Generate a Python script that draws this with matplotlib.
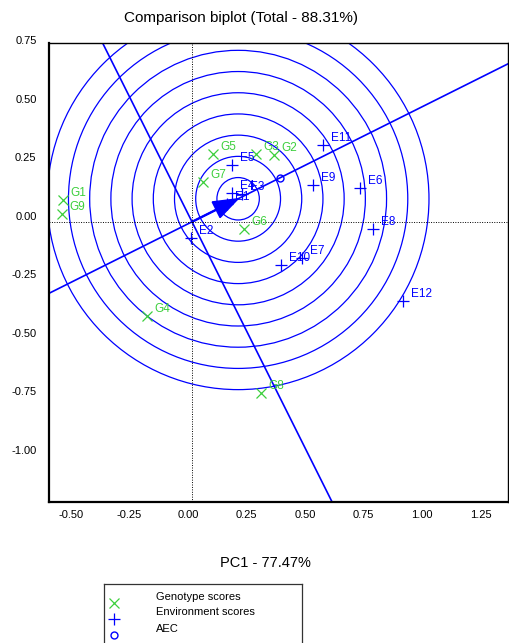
import matplotlib
matplotlib.use("Agg")
import matplotlib.pyplot as plt
import matplotlib.transforms as mtransforms
import numpy as np
from matplotlib.patches import Circle, FancyArrow

plt.rcParams['font.family'] = ['Liberation Sans', 'DejaVu Sans']

# genotype and environment scores (PC1, PC2)
genotypes = ['G1', 'G2', 'G3', 'G4', 'G5', 'G6', 'G7', 'G8', 'G9']
gen_pc1 = [-0.551, 0.350, 0.274, -0.192, 0.090, 0.222, 0.047, 0.295, -0.556]
gen_pc2 = [0.094, 0.286, 0.291, -0.402, 0.291, -0.030, 0.171, -0.731, 0.034]

environments = ['E1', 'E2', 'E3', 'E4', 'E5', 'E6', 'E7', 'E8', 'E9', 'E10', 'E11', 'E12']
env_pc1 = [0.150, -0.004, 0.214, 0.171, 0.171, 0.718, 0.470, 0.774, 0.517, 0.380, 0.560, 0.902]
env_pc2 = [0.077, -0.068, 0.119, 0.124, 0.244, 0.145, -0.154, -0.030, 0.158, -0.184, 0.329, -0.338]

aec = (0.376, 0.188)
ideal = (0.197, 0.0985)
ring_step = 0.0906
n_rings = 9

total_pct = 88.31
pc1_pct = 77.47

xlim = (-0.611, 1.350)
ylim = (-1.197, 0.764)
xticks = [-0.50, -0.25, 0.00, 0.25, 0.50, 0.75, 1.00, 1.25]
yticks = [-1.00, -0.75, -0.50, -0.25, 0.00, 0.25, 0.50, 0.75]

green = '#3ccf3c'
blue = '#0000ff'

fig = plt.figure(figsize=(5.09, 6.43), dpi=100)
ax = fig.add_axes([49/509, 1-502/643, 459/509, 459/643])

# concentric rings around the ideal genotype
for k in range(1, n_rings+1):
    ax.add_patch(Circle(ideal, ring_step*k, fill=False, ec=blue, lw=0.9))

# AEC abscissa through the origin and its perpendicular
slope = aec[1]/aec[0]
xs = np.array(xlim)
ax.plot(xs, slope*xs, color=blue, lw=1.2)
ys = np.array(ylim)
ax.plot(-slope*ys, ys, color=blue, lw=1.2)

# arrow from origin to ideal genotype
ax.add_patch(FancyArrow(0, 0, ideal[0], ideal[1], width=0.004, head_width=0.075,
                        head_length=0.105, length_includes_head=True, color=blue))

ax.axhline(0, color='black', lw=0.7, ls=(0, (1, 1.5)))
ax.axvline(0, color='black', lw=0.7, ls=(0, (1, 1.5)))

ax.plot(gen_pc1, gen_pc2, 'x', color=green, ms=7, mew=0.9)
for name, x, y in zip(genotypes, gen_pc1, gen_pc2):
    ax.annotate(name, (x, y), xytext=(5.5, 5), textcoords='offset points',
                color=green, fontsize=8.5, ha='left', va='center')

ax.plot(env_pc1, env_pc2, '+', color=blue, ms=8, mew=0.9)
for name, x, y in zip(environments, env_pc1, env_pc2):
    ax.annotate(name, (x, y), xytext=(5.5, 5), textcoords='offset points',
                color=blue, fontsize=8.5, ha='left', va='center')

ax.plot([aec[0]], [aec[1]], 'o', mfc='none', mec=blue, ms=5, mew=1.0)

ax.set_xlim(xlim)
ax.set_ylim(ylim)
ax.set_xticks(xticks)
ax.set_yticks(yticks)
ax.set_xticklabels(['%.2f' % v for v in xticks])
ax.set_yticklabels(['%.2f' % v for v in yticks])
ax.tick_params(length=0, labelsize=8)
ax.tick_params(axis='y', pad=9)
ax.tick_params(axis='x', pad=6)
# tick labels sit slightly off their grid positions
for lab in ax.get_yticklabels():
    lab.set_transform(lab.get_transform() + mtransforms.ScaledTranslation(0, 0.06, fig.dpi_scale_trans))
for lab in ax.get_xticklabels():
    lab.set_transform(lab.get_transform() + mtransforms.ScaledTranslation(-0.04, 0, fig.dpi_scale_trans))
for s in ['top', 'right']:
    ax.spines[s].set_linewidth(1.0)
for s in ['left', 'bottom']:
    ax.spines[s].set_linewidth(1.6)

fig.text(241/509, 1-18/643, 'Comparison biplot (Total - %.2f%%)' % total_pct,
         ha='center', va='center', fontsize=11)
fig.text(265/509, 1-563/643, 'PC1 - %.2f%%' % pc1_pct,
         ha='center', va='center', fontsize=10.5)

# legend box
lax = fig.add_axes([104/509, -0.02, 198/509, (643-584)/643 + 0.02])
lax.set_xlim(0, 198)
lax.set_ylim(643+13, 584)
lax.set_xticks([])
lax.set_yticks([])
for s in lax.spines.values():
    s.set_linewidth(0.9)
    s.set_color('#333333')
lax.plot([10], [603], 'x', color=green, ms=7, mew=0.9)
lax.plot([10], [619], '+', color=blue, ms=9, mew=0.9)
lax.plot([10], [635], 'o', mfc='none', mec=blue, ms=5, mew=1.0)
legend_labels = ['Genotype scores', 'Environment scores', 'AEC']
for lab, yy in zip(legend_labels, [597, 612, 629]):
    lax.text(52, yy, lab, fontsize=8, va='center', ha='left')

fig.savefig('out.png', dpi=100)
